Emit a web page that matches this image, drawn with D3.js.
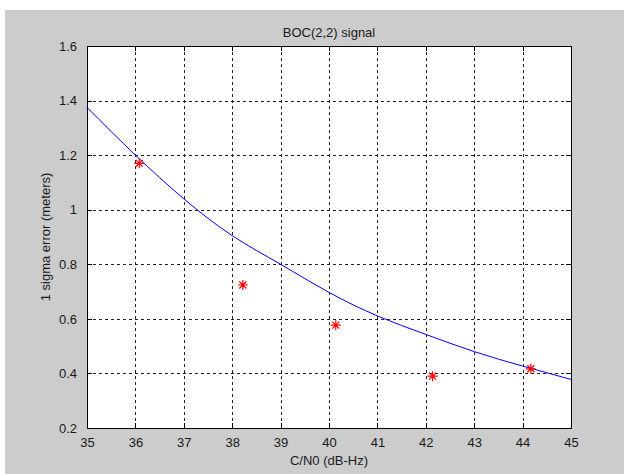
<!DOCTYPE html>
<html>
<head>
<meta charset="utf-8">
<script src="https://cdn.jsdelivr.net/npm/d3@7"></script>
<style>
  body { margin: 0; background: #fff; }
  text { font-family: "Liberation Sans", Arial, sans-serif; fill: #1a1a1a; }
</style>
</head>
<body>
<svg id="fig" width="624" height="474"></svg>
<script>
// theory curve at each integer C/N0
const curveCn0 = [35, 36, 37, 38, 39, 40, 41, 42, 43, 44, 45];
const curveSigma = [1.375, 1.2, 1.04, 0.905, 0.80, 0.697, 0.611, 0.543, 0.48, 0.427, 0.378];

// measured points (red stars)
const measCn0 = [36.08, 38.22, 40.14, 42.14, 44.17];
const measSigma = [1.17, 0.724, 0.577, 0.39, 0.417];

const xTicks = [35, 36, 37, 38, 39, 40, 41, 42, 43, 44, 45];
const yTicks = [0.2, 0.4, 0.6, 0.8, 1, 1.2, 1.4, 1.6];

const svg = d3.select("#fig");

// figure background (grey, like a matlab window)
svg.append("rect")
    .attr("x", 5).attr("y", 10)
    .attr("width", 619).attr("height", 464)
    .attr("fill", "#cccccc");

const pLeft = 87, pRight = 571, pTop = 46, pBottom = 428;

const x = d3.scaleLinear().domain([35, 45]).range([pLeft, pRight]);
const y = d3.scaleLinear().domain([0.2, 1.6]).range([pBottom, pTop]);

svg.append("rect")
    .attr("x", pLeft).attr("y", pTop)
    .attr("width", pRight - pLeft).attr("height", pBottom - pTop)
    .attr("fill", "#fff");

// dotted grid
const grid = svg.append("g")
    .attr("stroke", "#222")
    .attr("stroke-dasharray", "3,3")
    .attr("shape-rendering", "crispEdges");
grid.selectAll("line.v")
    .data(xTicks.slice(1, -1))
    .enter().append("line")
    .attr("x1", d => Math.round(x(d)) + 0.5).attr("x2", d => Math.round(x(d)) + 0.5)
    .attr("y1", pTop).attr("y2", pBottom);
grid.selectAll("line.h")
    .data(yTicks.slice(1, -1))
    .enter().append("line")
    .attr("y1", d => Math.round(y(d)) + 0.5).attr("y2", d => Math.round(y(d)) + 0.5)
    .attr("x1", pLeft).attr("x2", pRight);

// axes with inward ticks, box on
const tickLen = 5;
const xAxis = svg.append("g")
    .attr("transform", `translate(0,${pBottom})`)
    .call(d3.axisBottom(x).tickValues(xTicks).tickSizeInner(-tickLen).tickSizeOuter(0).tickPadding(10));
const xTopAxis = svg.append("g")
    .attr("transform", `translate(0,${pTop})`)
    .call(d3.axisTop(x).tickValues(xTicks).tickSizeInner(-tickLen).tickSizeOuter(0).tickFormat(""));
const yAxis = svg.append("g")
    .attr("transform", `translate(${pLeft},0)`)
    .call(d3.axisLeft(y).tickValues(yTicks).tickSizeInner(-tickLen).tickSizeOuter(0).tickPadding(10)
        .tickFormat(d => d3.format("")(+d.toFixed(1))));
const yRightAxis = svg.append("g")
    .attr("transform", `translate(${pRight},0)`)
    .call(d3.axisRight(y).tickValues(yTicks).tickSizeInner(-tickLen).tickSizeOuter(0).tickFormat(""));

[xAxis, xTopAxis, yAxis, yRightAxis].forEach(g => {
    g.select(".domain").remove();
    g.selectAll("line").attr("stroke", "#000").attr("shape-rendering", "crispEdges");
    g.selectAll("text")
        .attr("font-family", "Liberation Sans, Arial, sans-serif")
        .attr("font-size", 13)
        .attr("fill", "#1a1a1a");
});
xAxis.selectAll("text").attr("dy", "0.71em");

svg.append("rect")
    .attr("x", pLeft + 0.5).attr("y", pTop + 0.5)
    .attr("width", pRight - pLeft).attr("height", pBottom - pTop)
    .attr("fill", "none")
    .attr("stroke", "#000")
    .attr("shape-rendering", "crispEdges");

// blue theory line
const line = d3.line()
    .x((d, i) => x(curveCn0[i]))
    .y(d => y(d))
    .curve(d3.curveNatural);
svg.append("path")
    .datum(curveSigma)
    .attr("d", line)
    .attr("fill", "none")
    .attr("stroke", "#0000ff")
    .attr("stroke-width", 1);

// red star markers ('*' = plus + cross)
const stars = svg.append("g")
    .attr("stroke", "#ff0000")
    .attr("stroke-width", 1.2);
measSigma.forEach((v, i) => {
    const cx = x(measCn0[i]), cy = y(v);
    const s = 5, c = 3.5;
    stars.append("path")
        .attr("d", `M${cx - s},${cy}L${cx + s},${cy}M${cx},${cy - s}L${cx},${cy + s}` +
                   `M${cx - c},${cy - c}L${cx + c},${cy + c}M${cx - c},${cy + c}L${cx + c},${cy - c}`);
});

// labels
svg.append("text")
    .attr("x", (pLeft + pRight) / 2).attr("y", 37)
    .attr("text-anchor", "middle")
    .attr("font-size", 13)
    .text("BOC(2,2) signal");

svg.append("text")
    .attr("x", (pLeft + pRight) / 2).attr("y", 465)
    .attr("text-anchor", "middle")
    .attr("font-size", 13)
    .text("C/N0 (dB-Hz)");

svg.append("text")
    .attr("transform", `translate(50,${(pTop + pBottom) / 2}) rotate(-90)`)
    .attr("text-anchor", "middle")
    .attr("font-size", 13)
    .text("1 sigma error (meters)");
</script>
</body>
</html>
